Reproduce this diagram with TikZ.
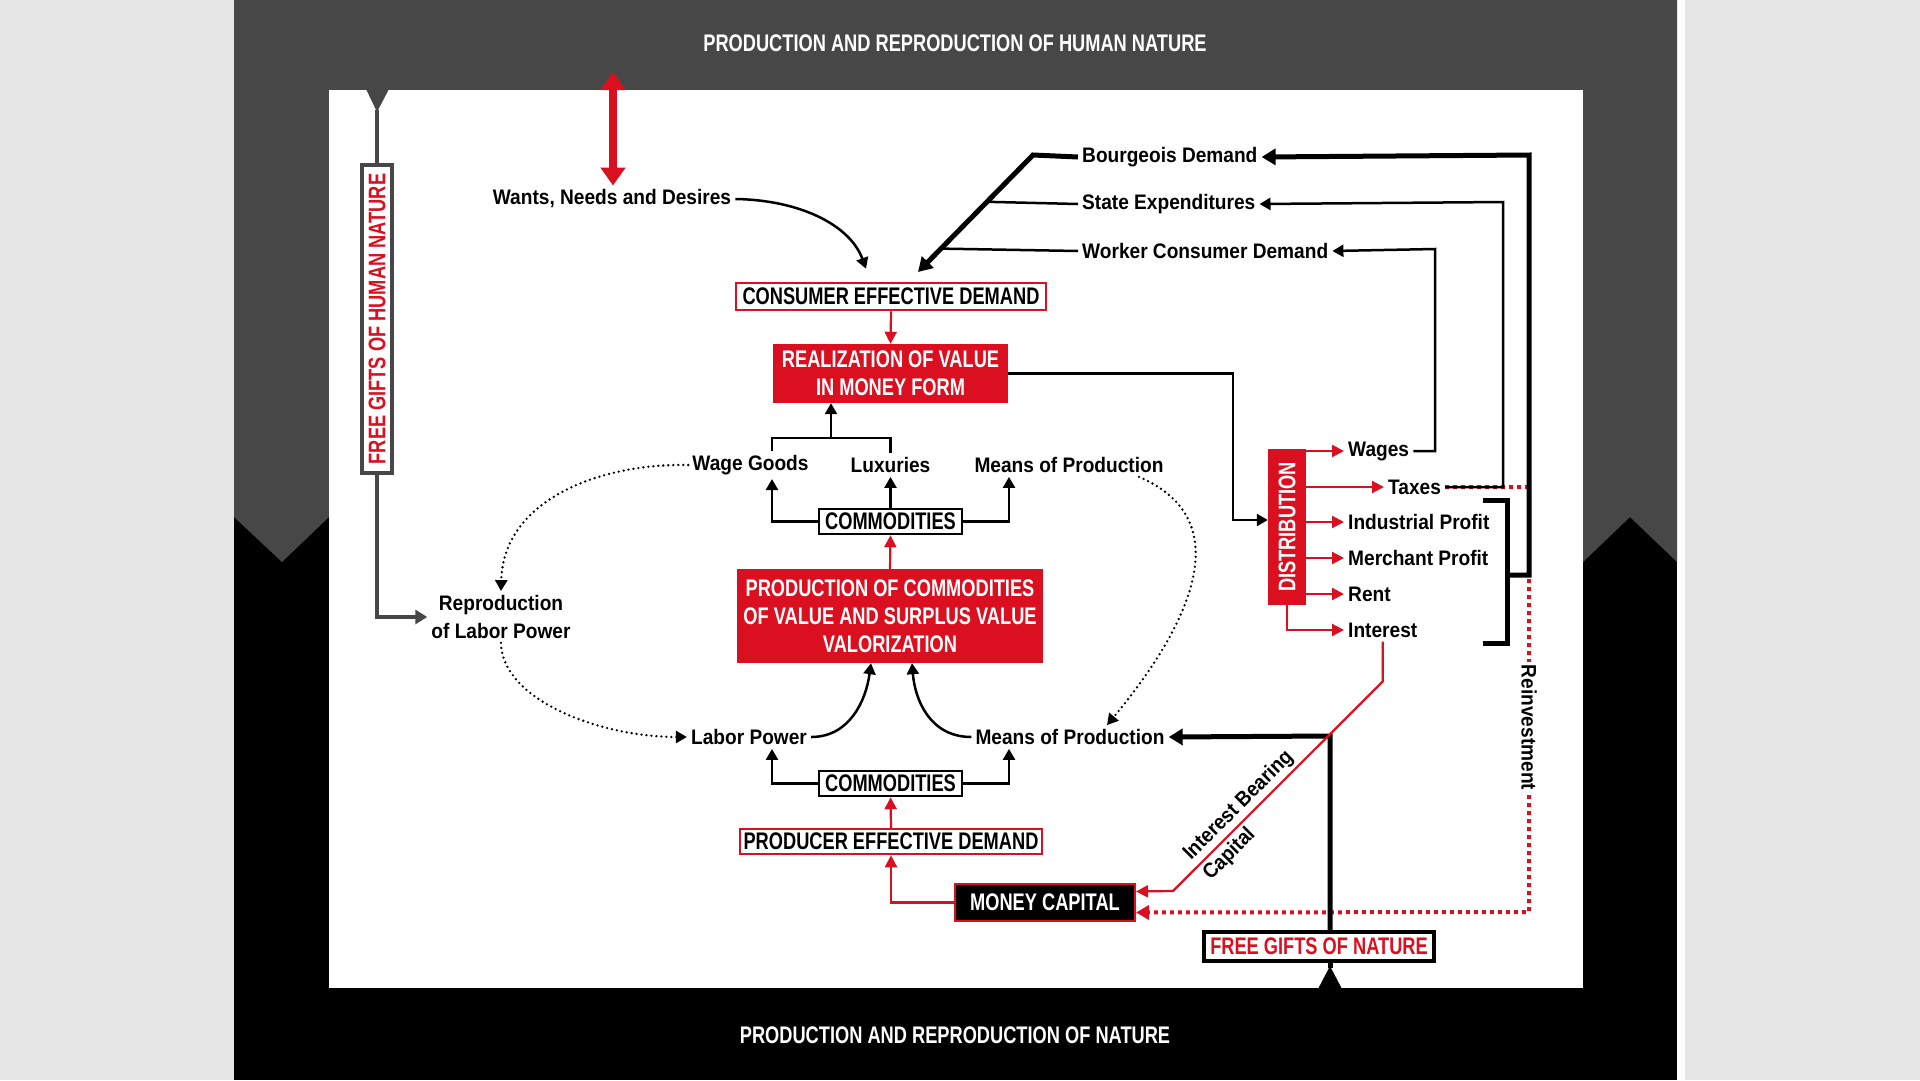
\documentclass[tikz,border=0pt]{standalone}
\usepackage{fontspec}
\setmainfont{Liberation Sans}[FakeStretch=0.91]
\newfontfamily\capsfont{Liberation Sans}[FakeStretch=0.76]
\usepackage{tikz}
\usetikzlibrary{arrows.meta, calc}
\definecolor{capred}{RGB}{218,16,32}
\definecolor{bandgray}{RGB}{71,71,71}
\definecolor{outgray}{RGB}{230,230,230}

\begin{document}
\begin{tikzpicture}[
        x=1pt, y=-1pt,
        term/.style={
          font=\bfseries\fontsize{21}{28}\selectfont,
          inner sep=4pt,
          align=center
        },
        capbox/.style={
          font=\capsfont\bfseries\fontsize{24}{28}\selectfont,
          inner sep=0pt,
          align=center
        },
        redbox/.style={capbox, fill=capred, text=white},
        outlinebox/.style={capbox, fill=white, draw=capred, line width=2.5pt},
        commbox/.style={
          capbox,
          fill=white,
          draw=black,
          line width=2.5pt,
          minimum width=143pt,
          minimum height=25pt
        },
        bandtitle/.style={capbox, text=white},
        wire/.style={line width=2.5pt},
        heavywire/.style={line width=5pt},
        conn/.style={wire, -{Triangle[width=12pt,length=11pt]}},
        heavyconn/.style={heavywire, -{Triangle[width=16pt,length=14pt]}},
        redconn/.style={draw=capred, line width=2.2pt, -{Triangle[width=12pt,length=12pt]}},
        dotconn/.style={
          line width=2.6pt,
          line cap=round,
          dash pattern=on 0pt off 5pt,
          -{Triangle[width=12pt,length=11pt]}
        },
        reddots/.style={
          draw=capred,
          line width=4pt,
          dash pattern=on 4pt off 4pt,
          -{Triangle[width=14pt,length=13pt]}
        },
        grayconn/.style={draw=bandgray, line width=4pt}
      ]
        \useasboundingbox (0,0) rectangle (1920,1080);
        \fill[outgray] (0,0) rectangle (1920,1080);
        \fill[black] (234,0) rectangle (1677,1080);
        \fill[white] (1677,0) rectangle (1685,1080);
        \fill[bandgray] (234,0) -- (1677,0) -- (1677,562) -- (1630,517) -- (1583,562)
          -- (329,517) -- (282,562) -- (234,517) -- cycle;
        \fill[white] (329,90) rectangle (1583,988);
        \fill[bandgray] (366,89) -- (389,89) -- (377,112) -- cycle;
        \fill[black] (1318,989) -- (1342,989) -- (1330,966) -- cycle;

        \node[bandtitle] (humantitle) at (955,43) {PRODUCTION AND REPRODUCTION OF HUMAN NATURE};
        \node[bandtitle] (naturetitle) at (955,1035) {PRODUCTION AND REPRODUCTION OF NATURE};

        \node[capbox, draw=bandgray, line width=4pt, fill=white, text=capred,
          minimum width=30pt, minimum height=308pt] (humangift) at (377,319)
          {\rotatebox{90}{FREE GIFTS OF HUMAN NATURE}};
        \node[term] (wants) at (612,199) {Wants, Needs and Desires};
        \node[outlinebox, minimum width=310pt, minimum height=27pt] (consumer) at (891,296.5) {CONSUMER EFFECTIVE DEMAND};
        \node[redbox, minimum width=235pt, minimum height=59pt] (realization) at (890.5,373.5) {REALIZATION OF VALUE\\IN MONEY FORM};
        \node[term, anchor=west] (bourgeois) at (1078,157) {Bourgeois Demand};
        \node[term, anchor=west] (state) at (1078,204) {State Expenditures};
        \node[term, anchor=west] (worker) at (1078,251) {Worker Consumer Demand};

        \node[term] (wagegoods) at (750.5,465) {Wage Goods};
        \node[term] (luxuries) at (890.5,465) {Luxuries};
        \node[term] (meansup) at (1069,465) {Means of Production};
        \node[commbox] (commup) at (890.5,521.5) {COMMODITIES};
        \node[redbox, minimum width=306pt, minimum height=94pt] (production) at (890,616)
          {PRODUCTION OF COMMODITIES\\OF VALUE AND SURPLUS VALUE\\VALORIZATION};
        \node[term] (reproduction) at (501,617) {Reproduction\\of Labor Power};
        \node[term] (laborpower) at (749,737) {Labor Power};
        \node[term] (meanslow) at (1070,737) {Means of Production};
        \node[commbox] (commlow) at (890.5,783.5) {COMMODITIES};
        \node[outlinebox, minimum width=302pt, minimum height=25pt] (producer) at (891,841.5) {PRODUCER EFFECTIVE DEMAND};
        \node[capbox, fill=black, text=white, draw=capred, line width=2pt,
          minimum width=180pt, minimum height=37pt] (moneycap) at (1045,902.5) {MONEY CAPITAL};
        \node[capbox, fill=white, text=capred, draw=black, line width=4pt,
          minimum width=230pt, minimum height=29pt] (naturegift) at (1319,946.5) {FREE GIFTS OF NATURE};

        \node[redbox, minimum width=38pt, minimum height=156pt] (distribution) at (1287,527)
          {\rotatebox{90}{DISTRIBUTION}};
        \node[term, anchor=west] (wages) at (1344,451) {Wages};
        \node[term, anchor=west] (taxes) at (1384,487) {Taxes};
        \node[term, anchor=west] (industrial) at (1344,522) {Industrial Profit};
        \node[term, anchor=west] (merchant) at (1344,558) {Merchant Profit};
        \node[term, anchor=west] (rent) at (1344,594) {Rent};
        \node[term, anchor=west] (interest) at (1344,630) {Interest};

        \coordinate (wantstop) at (613,72);
        \coordinate (demandbend) at (1033,155);
        \coordinate (demandtip) at (918,272);
        \coordinate (distin) at (1233,520);
        \coordinate (wagesup) at (1435,249);
        \coordinate (taxesup) at (1503,202);
        \coordinate (profitsup) at (1529,155);
        \coordinate (profitsmid) at (1507,575);
        \coordinate (brackettop) at (1483,500);
        \coordinate (bracketbot) at (1483,643);
        \coordinate (reinvestcorner) at (1529,912);
        \coordinate (goodsfork) at (831,438);
        \coordinate (giftcorner) at (1330,736);
        \coordinate (naturetip) at (1330,968);
        \coordinate (humantip) at (377,110);
        \coordinate (ibcfoot) at (1173,891);

        \draw[draw=capred, line width=8pt, {Triangle[width=24pt,length=18pt]}-{Triangle[width=24pt,length=18pt]}]
          (wantstop) -- (wants.north -| wantstop);
        \draw[conn] (wants.east) .. controls (800,200) and (850,225) .. ($(consumer.north)+(-25,-13)$);
        \draw[heavyconn] (bourgeois.west) -- (demandbend) -- (demandtip);
        \draw[wire] (state.west) -- ($(demandbend)!0.40!(demandtip)$);
        \draw[wire] (worker.west) -- ($(demandbend)!0.80!(demandtip)$);
        \draw[redconn] (consumer.south) -- (realization.north);
        \draw[conn] (realization.east) -| (distin) -- (distin -| distribution.west);

        \foreach \share in {wages, taxes, industrial, merchant, rent}
          \draw[redconn] (\share.west -| distribution.east) -- (\share.west);
        \draw[redconn] (distribution.south) |- (interest.west);

        \draw[reddots] (taxes.east) -- (taxes.east -| reinvestcorner)
          -- node[term, pos=0.566, rotate=-90, fill=white, inner sep=3pt] {Reinvestment} (reinvestcorner)
          -- ($(moneycap.east)+(0,10)$);
        \draw[conn] (wages.east) -| (wagesup) -- (worker.east);
        \draw[conn] (taxes.east) -| (taxesup) -- (state.east);
        \draw[heavywire] (brackettop) -| (profitsmid) |- (bracketbot);
        \draw[heavyconn] (profitsmid) -| (profitsup) -- (bourgeois.east);

        \draw[redconn] (production.north) -- (commup.south);
        \draw[conn] (commup.west) -| ([xshift=21.5pt]wagegoods.south);
        \draw[conn] (commup.north) -- (luxuries.south);
        \draw[conn] (commup.east) -| ([xshift=-60pt]meansup.south);
        \draw[wire] ([xshift=21.5pt]wagegoods.north) |- (goodsfork) -| (luxuries.north);
        \draw[conn] (goodsfork) -- (goodsfork |- realization.south);

        \draw[dotconn] (wagegoods.west) .. controls (600,463) and (503,500) .. (reproduction.north);
        \draw[dotconn] (reproduction.south) .. controls (502,700) and (600,737) .. (laborpower.west);
        \draw[dotconn] ([xshift=70pt]meansup.south) .. controls (1240,520) and (1190,625) .. ([xshift=37pt]meanslow.north);

        \draw[conn] (laborpower.east) .. controls (850,737) and (866,700) .. ([xshift=-19pt]production.south);
        \draw[conn] (meanslow.west) .. controls (930,737) and (915,700) .. ([xshift=22pt]production.south);
        \draw[conn] (commlow.west) -| ([xshift=23pt]laborpower.south);
        \draw[conn] (commlow.east) -| ([xshift=-61pt]meanslow.south);
        \draw[redconn] (producer.north) -- (commlow.south);
        \draw[redconn] (moneycap.west) -| (producer.south);

        \draw[grayconn] (humantip) -- (humangift.north);
        \draw[grayconn, -{Triangle[width=14pt,length=12pt]}] (humangift.south) |- (reproduction.west);

        \draw[heavyconn] (giftcorner |- naturegift.north) -- (giftcorner) -- (meanslow.east);
        \draw[heavywire] (naturetip) -- (giftcorner |- naturegift.south);
        \draw[redconn] (interest.south) -- ++(0,40)
          -- node[term, pos=0.64, rotate=45, align=left, inner sep=1pt] {Interest Bearing\\Capital} (ibcfoot)
          -- ($(moneycap.east)+(0,-11)$);
      \end{tikzpicture}
\end{document}
